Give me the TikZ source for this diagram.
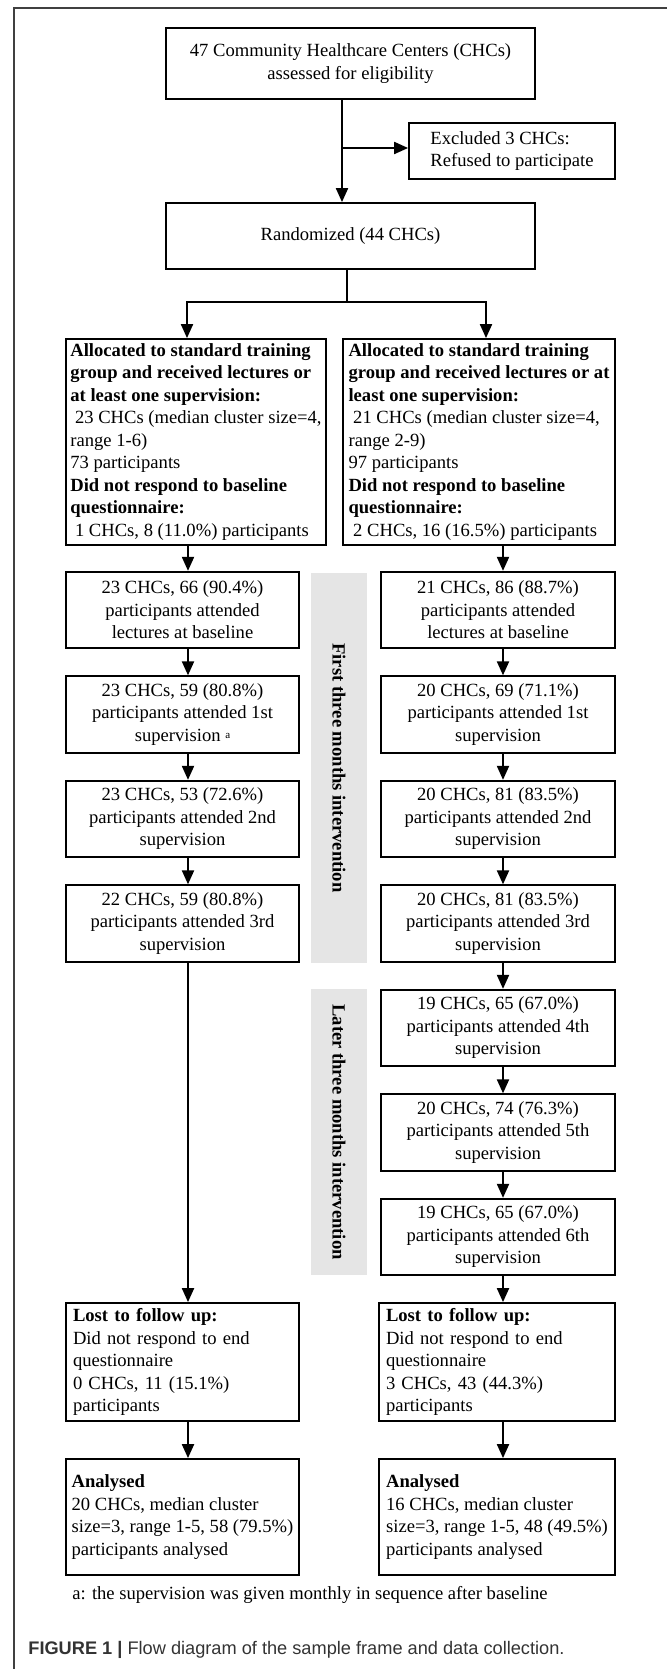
\documentclass[tikz,border=0pt]{standalone}
\usepackage{fontspec}
\setmainfont{Liberation Serif}
\newfontfamily\capfont{Liberation Sans}
\usetikzlibrary{arrows.meta}

\tikzset{
  txt/.style={font=\fontsize{9.3}{11.25}\selectfont},
  box/.style={txt, draw, line width=0.9pt, inner sep=0pt, align=center},
  lbox/.style={box, align=left},
  colL/.style={box, minimum width=116.5pt, minimum height=38.25pt},
  colR/.style={box, minimum width=117pt, minimum height=38.25pt},
  arr/.style={line width=1pt, -{Triangle[width=6pt,length=7pt]}},
  band/.style={fill=gray!20},
  bandtext/.style={rotate=-90, font=\fontsize{9.3}{11.25}\selectfont\bfseries},
}

\begin{document}
\begin{tikzpicture}[x=0.5pt,y=-0.5pt]
	\useasboundingbox (0,0) rectangle (667,1669);
	\draw[black!75, line width=0.8pt] (667,8) -- (14,8) -- (14,1669);

	% top part
	\node[box, minimum width=184.5pt, minimum height=35.5pt] (top) at (350.5,63.5) {47 Community Healthcare Centers (CHCs)\\assessed for eligibility};
	\node[lbox, minimum width=103pt, minimum height=28pt] (excl) at (512,151) {Excluded 3 CHCs:\\Refused to participate};
	\node[box, minimum width=184.5pt, minimum height=33pt] (rand) at (350.5,236) {Randomized (44 CHCs)};

	% allocation
	\node[lbox, minimum width=130pt, minimum height=103pt] (allocL) at (196,442) {\textbf{Allocated to standard training}\\\textbf{group and received lectures or}\\\textbf{at least one supervision:}\\\hspace*{.25em}23 CHCs (median cluster size=4,\\range 1-6)\\73 participants\\\textbf{Did not respond to baseline}\\\textbf{questionnaire:}\\\hspace*{.25em}1 CHCs, 8 (11.0\%) participants};
	\node[lbox, minimum width=136pt, minimum height=103pt] (allocR) at (479,442) {\textbf{Allocated to standard training}\\\textbf{group and received lectures or at}\\\textbf{least one supervision:}\\\hspace*{.25em}21 CHCs (median cluster size=4,\\range 2-9)\\97 participants\\\textbf{Did not respond to baseline}\\\textbf{questionnaire:}\\\hspace*{.25em}2 CHCs, 16 (16.5\%) participants};

	% grey bands
	\fill[band] (311,573) rectangle (367,963);
	\node[bandtext] (bandA) at (339,768) {First three months intervention};
	\fill[band] (311,989) rectangle (367,1275);
	\node[bandtext] (bandB) at (339,1132) {Later three months intervention};

	% left column
	\node[colL] (baseL) at (182.5,610) {23 CHCs, 66 (90.4\%)\\participants attended\\lectures at baseline};
	\node[colL] (sup1L) at (182.5,714.5) {23 CHCs, 59 (80.8\%)\\participants attended 1st\\supervision \raisebox{.3ex}{\fontsize{5.5}{6}\selectfont a}};
	\node[colL] (sup2L) at (182.5,819) {23 CHCs, 53 (72.6\%)\\participants attended 2nd\\supervision};
	\node[colL] (sup3L) at (182.5,923.5) {22 CHCs, 59 (80.8\%)\\participants attended 3rd\\supervision};

	% right column
	\node[colR] (baseR) at (498,610) {21 CHCs, 86 (88.7\%)\\participants attended\\lectures at baseline};
	\node[colR] (sup1R) at (498,714.5) {20 CHCs, 69 (71.1\%)\\participants attended 1st\\supervision};
	\node[colR] (sup2R) at (498,819) {20 CHCs, 81 (83.5\%)\\participants attended 2nd\\supervision};
	\node[colR] (sup3R) at (498,923.5) {20 CHCs, 81 (83.5\%)\\participants attended 3rd\\supervision};
	\node[colR] (sup4R) at (498,1028) {19 CHCs, 65 (67.0\%)\\participants attended 4th\\supervision};
	\node[colR] (sup5R) at (498,1132.5) {20 CHCs, 74 (76.3\%)\\participants attended 5th\\supervision};
	\node[colR] (sup6R) at (498,1237) {19 CHCs, 65 (67.0\%)\\participants attended 6th\\supervision};

	% follow up and analysis
	\node[box, align=left, text width=109.5pt, inner xsep=3.5pt, minimum height=59pt] (lostL) at (182.5,1362) {\textbf{Lost to follow up:}\\Did not respond to end\\questionnaire\\0 CHCs, 11 (15.1\%)\\participants};
	\node[box, align=left, text width=111pt, inner xsep=3.5pt, minimum height=59pt] (lostR) at (497,1362) {\textbf{Lost to follow up:}\\Did not respond to end\\questionnaire\\3 CHCs, 43 (44.3\%)\\participants};
	\node[lbox, minimum width=116.5pt, minimum height=58pt] (anaL) at (182.5,1517) {\textbf{Analysed}\\20 CHCs, median cluster\\size=3, range 1-5, 58 (79.5\%)\\participants analysed};
	\node[lbox, minimum width=118pt, minimum height=58pt] (anaR) at (497,1517) {\textbf{Analysed}\\16 CHCs, median cluster\\size=3, range 1-5, 48 (49.5\%)\\participants analysed};

	\node[txt, anchor=west, inner sep=0pt] (note) at (72,1595) {a: the supervision was given monthly in sequence after baseline};
	\node[anchor=west, inner sep=0pt, text=black!80, font=\capfont\fontsize{9.1}{11}\selectfont] (caption) at (28,1650) {\textbf{FIGURE 1 |} Flow diagram of the sample frame and data collection.};

	% connectors
	\coordinate (split1) at (342,148);
	\coordinate (split2) at (347,302);
	\coordinate (brL) at (187,302);
	\coordinate (brR) at (486,302);
	\coordinate (colLx) at (188,0);
	\coordinate (colRx) at (503,0);
	\draw[arr] (top.south -| split1) -- (rand.north -| split1);
	\draw[arr] (split1) -- (split1 -| excl.west);
	\draw[line width=1pt] (rand.south -| split2) -- (split2);
	\draw[arr] (split2) -- (brL) -- (allocL.north -| brL);
	\draw[arr] (split2) -- (brR) -- (allocR.north -| brR);
	\foreach \a/\b in {allocL/baseL, baseL/sup1L, sup1L/sup2L, sup2L/sup3L, sup3L/lostL, lostL/anaL}
		\draw[arr] (\a.south -| colLx) -- (\b.north -| colLx);
	\foreach \a/\b in {allocR/baseR, baseR/sup1R, sup1R/sup2R, sup2R/sup3R, sup3R/sup4R, sup4R/sup5R, sup5R/sup6R, sup6R/lostR, lostR/anaR}
		\draw[arr] (\a.south -| colRx) -- (\b.north -| colRx);
\end{tikzpicture}
\end{document}
